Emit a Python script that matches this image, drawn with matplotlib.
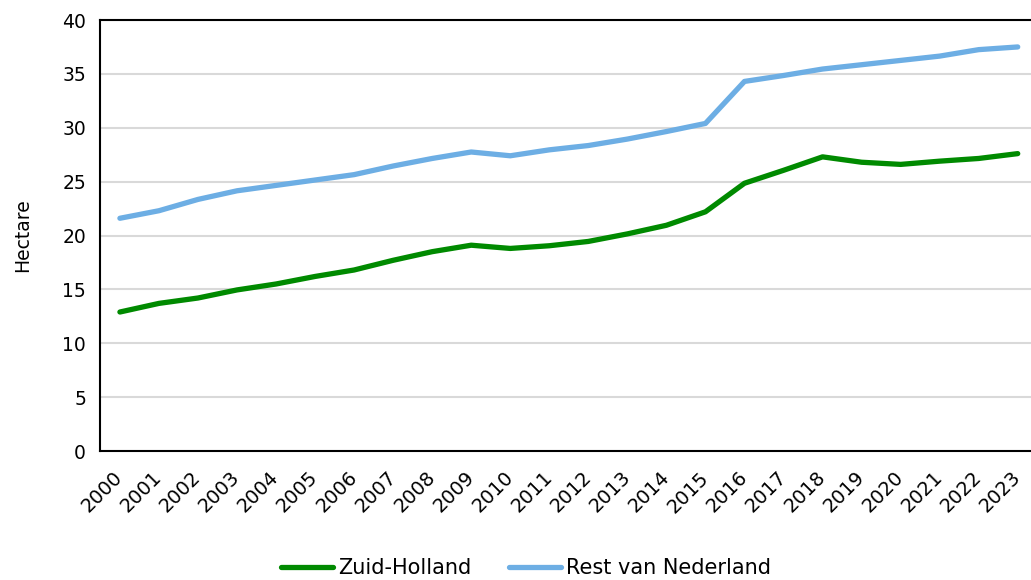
import matplotlib
matplotlib.use("Agg")
import matplotlib.pyplot as plt

years = [str(y) for y in range(2000, 2024)]
zuid_holland = [12.9, 13.7, 14.2, 14.95, 15.5, 16.2, 16.8, 17.7, 18.5, 19.1, 18.8, 19.05,
                19.45, 20.15, 20.95, 22.2, 24.85, 26.05, 27.3, 26.8, 26.6, 26.9, 27.15, 27.6]
rest_nl = [21.6, 22.3, 23.35, 24.15, 24.65, 25.15, 25.65, 26.45, 27.15, 27.75, 27.4, 27.95,
           28.35, 28.95, 29.65, 30.4, 34.3, 34.85, 35.45, 35.85, 36.25, 36.65, 37.25, 37.5]
yticks = [0, 5, 10, 15, 20, 25, 30, 35, 40]

fig = plt.figure(figsize=(10.31, 5.80), dpi=100)
ax = fig.add_axes([100 / 1031, 0.2224, 931 / 1031, 0.7431])

x = list(range(len(years)))
ax.plot(x, zuid_holland, color="#008a00", lw=3.8, solid_capstyle="round", label="Zuid-Holland", zorder=3)
ax.plot(x, rest_nl, color="#6daee4", lw=3.8, solid_capstyle="round", label="Rest van Nederland", zorder=3)

ax.set_xlim(-0.51, 23.34)
ax.set_ylim(0, 40)
ax.set_yticks(yticks)
ax.set_yticklabels([str(v) for v in yticks], fontsize=13.5)
ax.set_xticks(x)
ax.set_xticklabels(years, rotation=45, ha="right", va="center", rotation_mode="anchor", fontsize=14)
ax.tick_params(axis="both", length=0)
ax.tick_params(axis="y", pad=10)
ax.tick_params(axis="x", pad=17)
ax.grid(axis="y", color="#d9d9d9", lw=1.5, zorder=0)
ax.set_axisbelow(True)
for s in ["left", "bottom", "top"]:
    ax.spines[s].set_color("black")
    ax.spines[s].set_linewidth(1.5)
ax.spines["right"].set_visible(False)
ax.set_ylabel("Hectare", fontsize=13.5, labelpad=22)

fig.legend(loc="center", bbox_to_anchor=(526 / 1031, 1 - 568 / 580), ncol=2, frameon=False,
           fontsize=15, handlelength=2.5, handletextpad=0.25, columnspacing=1.8)

fig.savefig("out.png", dpi=100)
